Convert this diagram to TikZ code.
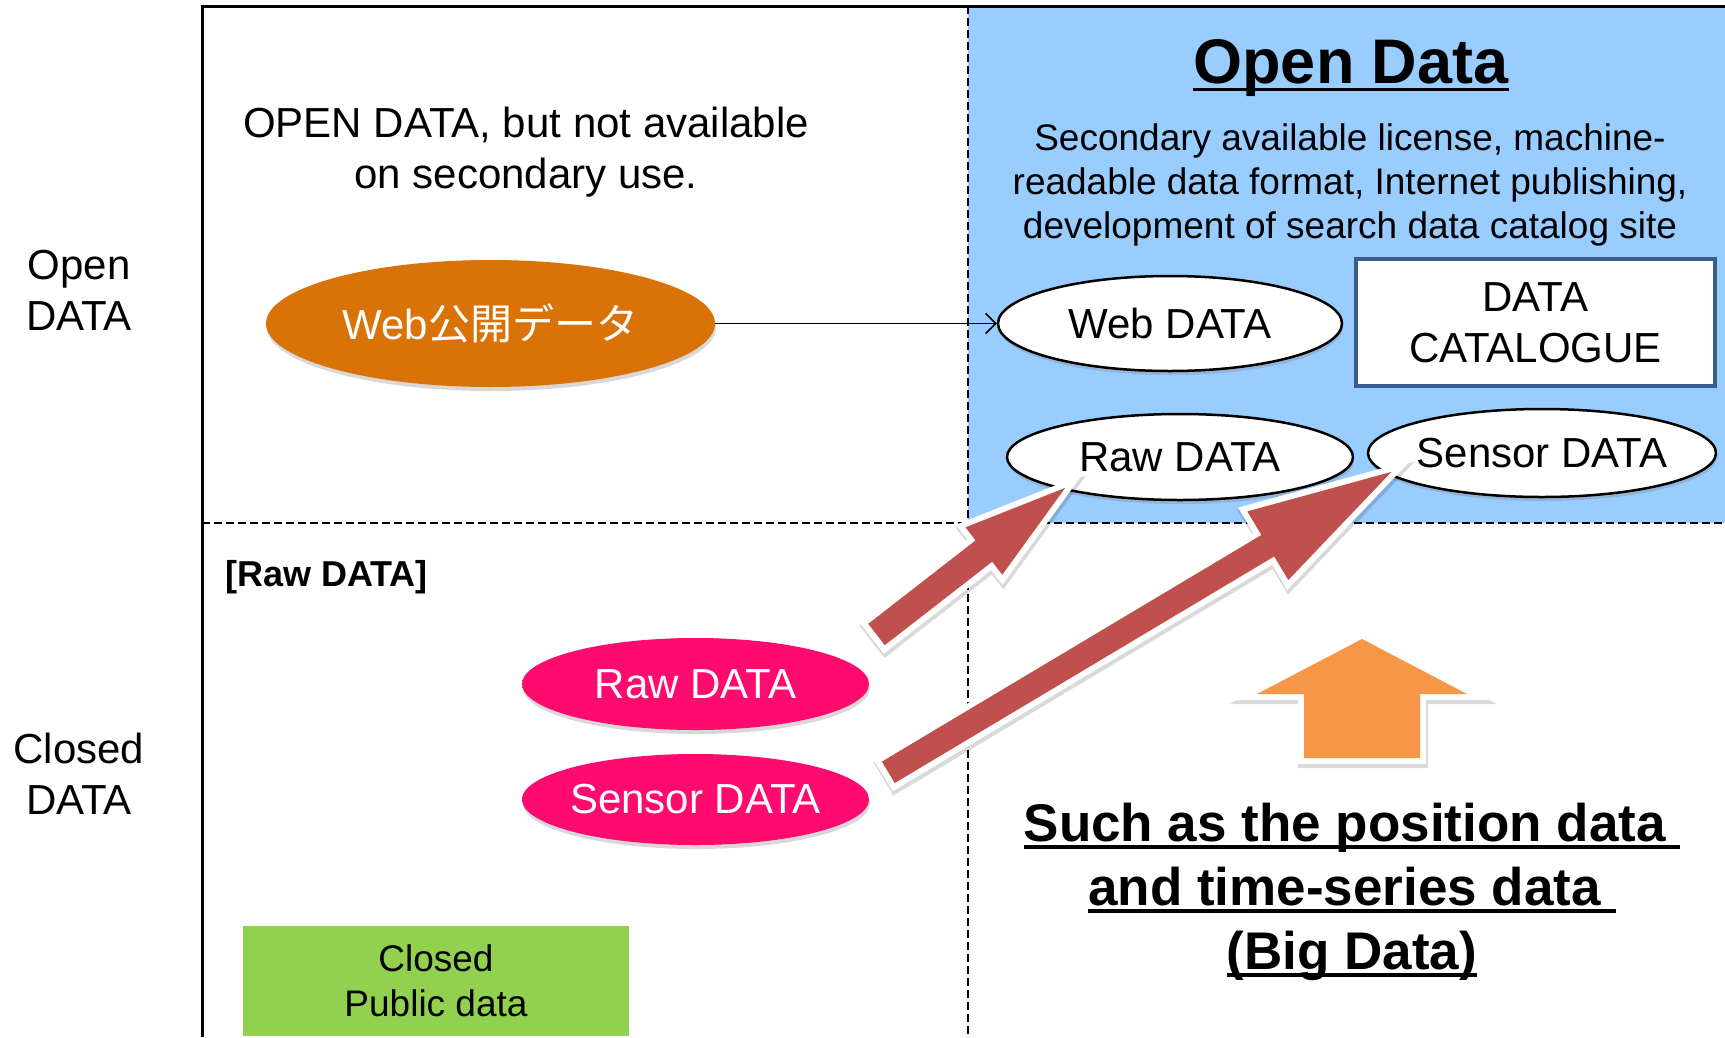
\documentclass[tikz,border=0pt]{standalone}
\usepackage{fontspec}
\setmainfont{Liberation Sans}
\newfontfamily\cjk{Noto Sans CJK JP}
\usetikzlibrary{shapes.geometric, arrows.meta, shadows}

\definecolor{opensky}{RGB}{153,204,255}
\definecolor{catborder}{RGB}{56,93,138}
\definecolor{flowred}{RGB}{192,80,77}
\definecolor{uporange}{RGB}{247,150,70}
\definecolor{closedgreen}{RGB}{146,208,80}

% glossy fills for the ovals: flat centre, darker rim, heavier at the bottom
\pgfdeclareradialshading{whiteglass}{\pgfpoint{0bp}{6bp}}{rgb(0bp)=(1,1,1); rgb(38bp)=(1,1,1); rgb(50bp)=(0.78,0.78,0.78)}
\pgfdeclareradialshading{pinkglass}{\pgfpoint{0bp}{5bp}}{rgb(0bp)=(1,0.04,0.43); rgb(40bp)=(1,0.04,0.43); rgb(50bp)=(0.70,0.0,0.30)}
\pgfdeclareradialshading{orangeglass}{\pgfpoint{0bp}{5bp}}{rgb(0bp)=(0.85,0.45,0.03); rgb(40bp)=(0.85,0.45,0.03); rgb(50bp)=(0.60,0.30,0.0)}

% underline that also covers a trailing space
\newsavebox\ulinebox
\newcommand\myul[2][7pt]{\sbox\ulinebox{#2}\rlap{\rule[-#1]{\wd\ulinebox}{3.5pt}}\usebox\ulinebox}
% oval label that does not widen its oval
\newcommand\ovaltext[1]{\makebox[0pt]{#1}}

\begin{document}
\begin{tikzpicture}[x=1pt, y=-1pt,
  frameline/.style={line width=3pt, black},
  gridline/.style={line width=2.5pt, black, dash pattern=on 8pt off 4pt},
  labeltxt/.style={font=\fontsize{42}{51}\selectfont, align=center, inner sep=0pt},
  softshadow/.style={drop shadow={opacity=0.3, shadow xshift=1pt, shadow yshift=-4pt}},
  whiteoval/.style={ellipse, draw=black, line width=2.5pt, shade, shading=whiteglass,
    inner sep=0pt, font=\fontsize{42}{50}\selectfont, softshadow},
  pinkoval/.style={ellipse, shade, shading=pinkglass, text=white, inner sep=0pt,
    font=\fontsize{42}{50}\selectfont, softshadow},
  orangeoval/.style={ellipse, shade, shading=orangeglass, text=white, inner sep=0pt,
    font=\fontsize{42}{50}\selectfont, softshadow},
  blockflow/.style={
    preaction={draw=black, opacity=0.15, line width=14pt, line join=miter,
      transform canvas={shift={(1pt,-3pt)}}},
    preaction={draw=white, line width=12pt, line join=miter},
    fill=#1},
]
\fill[white] (0,0) rectangle (1725,1037);
\useasboundingbox (0,0) rectangle (1725,1037);

% open-data quadrant
\fill[opensky] (968,6) rectangle (1725,523);

% grid of the four quadrants
\draw[frameline] (202,1037) -- (202,6) -- (1725,6);
\draw[gridline] (968,6) -- (968,1037);
\draw[gridline] (202,523) -- (1725,523);

% row labels
\node[labeltxt, anchor=north] (rowopen) at (79,250) {Open\\DATA};
\node[labeltxt, anchor=north] (rowclosed) at (79,733) {Closed\\DATA};

% upper left
\node[labeltxt, anchor=north] (opennote) at (526,107) {OPEN DATA, but not available\\on secondary use.};
\node[orangeoval, minimum width=449pt, minimum height=127pt] (webjp) at (490.5,323.5)
  {\ovaltext{\raisebox{3pt}{Web{\cjk 公開データ}}}};

% upper right
\node[font=\bfseries\fontsize{63}{70}\selectfont, anchor=base, inner sep=0pt] (title) at (1351,83) {\myul[8pt]{Open Data}};
\node[font=\fontsize{37}{44}\selectfont, align=center, anchor=north, inner sep=0pt] (criteria) at (1350,123.5)
  {Secondary available license, machine-\\readable data format, Internet publishing,\\development of search data catalog site};
\node[whiteoval, minimum width=344pt, minimum height=95pt] (webdata) at (1170,323.5) {\ovaltext{Web DATA}};
\node[rectangle, draw=catborder, line width=4pt, fill=white, minimum width=359pt, minimum height=127pt,
  align=center, inner sep=0pt, font=\fontsize{42}{51}\selectfont] (catalogue) at (1535.5,322.5)
  {\raisebox{-2pt}{DATA}\\\raisebox{-2pt}{CATALOGUE}};
\node[whiteoval, minimum width=346pt, minimum height=86pt] (rawopen) at (1180,457) {\ovaltext{Raw DATA}};
\node[whiteoval, minimum width=348pt, minimum height=88pt] (sensoropen) at (1542,453) {\ovaltext{Sensor DATA}};

% lower left
\node[font=\bfseries\fontsize{36}{42}\selectfont, anchor=base west, inner sep=0pt] (rawhead) at (225,586) {[Raw DATA]};
\node[pinkoval, minimum width=347pt, minimum height=92pt] (rawclosed) at (695.5,684) {\ovaltext{Raw DATA}};
\node[pinkoval, minimum width=347pt, minimum height=91pt] (sensorclosed) at (695.5,799.5) {\ovaltext{Sensor DATA}};
\node[rectangle, fill=closedgreen, minimum width=386pt, minimum height=110pt, align=center, inner sep=0pt,
  font=\fontsize{37}{45}\selectfont] (closedpub) at (436,981) {Closed\\Public data};

% lower right
\node[font=\bfseries\fontsize{53}{64}\selectfont, align=center, anchor=north, inner sep=0pt] (bigdata) at (1352,803)
  {\myul{Such as the position data\ }\\\myul{and time-series data\ }\\\myul{(Big Data)}};
\path[blockflow=uporange] (1304,758) -- (1304,694) -- (1257,694) -- (1362,639)
  -- (1467,694) -- (1420,694) -- (1420,758) -- cycle;

% publishing the web data
\draw[line width=1.5pt, -{Straight Barb[length=10pt,width=20pt]}] (webjp.east) -- (webdata.west);

% raw data opened up
\begin{scope}[shift={(876.5,634.5)}, rotate=37.85]
  \path[blockflow=flowred] (0,-13.5) -- (136,-13.5) -- (136,-30) -- (239,0)
    -- (136,30) -- (136,13.5) -- (0,13.5) -- cycle;
\end{scope}

% sensor data opened up
\begin{scope}[shift={(888.3,772.3)}, rotate=30.84]
  \path[blockflow=flowred] (0,-12.5) -- (442,-12.5) -- (442,-40) -- (586,0)
    -- (442,40) -- (442,12.5) -- (0,12.5) -- cycle;
\end{scope}
\end{tikzpicture}
\end{document}
